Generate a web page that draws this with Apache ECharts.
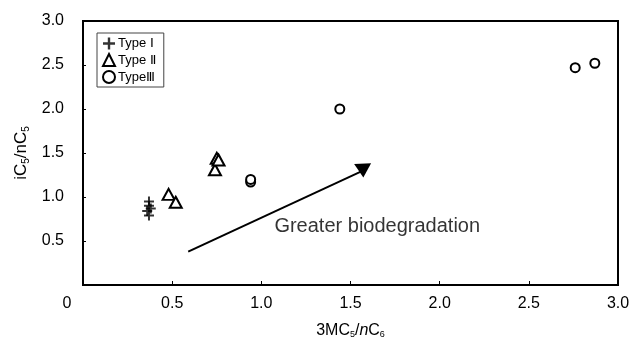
<!DOCTYPE html>
<html>
<head>
<meta charset="utf-8">
<script src="https://cdn.jsdelivr.net/npm/echarts@6/dist/echarts.min.js"></script>
<style>
  html, body { margin: 0; padding: 0; background: #fff; }
  #chart { width: 633px; height: 344px; }
</style>
</head>
<body>
<div id="chart"></div>
<script>
// values
const typeI = [[0.37, 0.95], [0.37, 0.90], [0.36, 0.84], [0.37, 0.79], [0.38, 0.87]];
const typeII = [[0.48, 1.03], [0.52, 0.94], [0.74, 1.31], [0.75, 1.44], [0.76, 1.42]];
const typeIII = [[0.94, 1.17], [0.94, 1.20], [1.44, 2.00], [2.76, 2.47], [2.87, 2.52]];
const arrow = [[0.59, 0.38], [1.57, 1.30]];
const note = [[1.65, 0.66]];
const noteText = 'Greater biodegradation';
const legendNames = ['Type Ⅰ', 'Type Ⅱ', 'TypeⅢ'];

const font = 'Liberation Sans, Arial, sans-serif';
const ink = '#000';
const plusPath = 'path://M4,0H6V4H10V6H6V10H4V6H0V4H4Z';

const chart = echarts.init(document.getElementById('chart'), null, { renderer: 'canvas' });
chart.setOption({
  backgroundColor: '#fff',
  animation: false,
  grid: { left: 83, right: 15, top: 21, bottom: 56, show: true, borderColor: ink, borderWidth: 2 },
  legend: {
    data: legendNames,
    orient: 'vertical',
    left: 97,
    top: 33,
    padding: [4, 8, 3, 5],
    itemGap: 3,
    itemWidth: 12,
    itemHeight: 12,
    borderColor: '#444',
    borderWidth: 1,
    textStyle: { fontFamily: font, fontSize: 13, color: ink, padding: [0, 0, 0, -2] }
  },
  xAxis: {
    type: 'value', min: 0, max: 3, interval: 0.5,
    name: '3MC{s|5}/{i|n}C{s|6}',
    nameLocation: 'middle', nameGap: 37,
    nameTextStyle: {
      fontFamily: font, fontSize: 16, color: ink,
      rich: {
        s: { fontFamily: font, fontSize: 9, color: ink, verticalAlign: 'bottom', padding: [8, 0, 0, 0] },
        i: { fontFamily: font, fontSize: 16, color: ink, fontStyle: 'italic' }
      }
    },
    axisLine: { show: true, lineStyle: { color: ink, width: 2 } },
    axisTick: { show: true, inside: true, length: 4, lineStyle: { color: ink } },
    splitLine: { show: false },
    axisLabel: {
      fontFamily: font, fontSize: 16, color: ink, margin: 11,
      formatter: (v) => v === 0 ? '{o|0}' : v.toFixed(1),
      rich: { o: { fontFamily: font, fontSize: 16, color: ink, padding: [0, 32, 0, 0] } }
    }
  },
  yAxis: {
    type: 'value', min: 0, max: 3, interval: 0.5,
    name: 'iC{s|5}/nC{s|5}',
    nameLocation: 'middle', nameGap: 47,
    nameTextStyle: {
      fontFamily: font, fontSize: 17, color: ink,
      rich: { s: { fontFamily: font, fontSize: 10, color: ink, verticalAlign: 'bottom', padding: [9, 0, 0, 0] } }
    },
    axisLine: { show: true, lineStyle: { color: ink, width: 2 } },
    axisTick: { show: true, inside: true, length: 3, lineStyle: { color: ink } },
    splitLine: { show: false },
    axisLabel: {
      fontFamily: font, fontSize: 16, color: ink, margin: 19,
      formatter: (v) => v === 0 ? '' : v.toFixed(1)
    }
  },
  series: [
    {
      name: legendNames[0], type: 'scatter', data: typeI,
      symbol: plusPath, symbolSize: 10,
      itemStyle: { color: ink }
    },
    {
      name: legendNames[1], type: 'scatter', data: typeII,
      symbol: 'triangle', symbolSize: [12, 11],
      itemStyle: { color: '#fff', borderColor: ink, borderWidth: 2, opacity: 1 }
    },
    {
      name: legendNames[2], type: 'scatter', data: typeIII,
      symbol: 'circle', symbolSize: 9,
      itemStyle: { color: '#fff', borderColor: ink, borderWidth: 2, opacity: 1 }
    },
    {
      name: 'arrow', type: 'line',
      data: [
        { value: arrow[0], symbol: 'none' },
        { value: arrow[1], symbol: 'triangle', symbolRotate: 183, symbolSize: [17, 14] }
      ],
      showSymbol: true,
      lineStyle: { color: ink, width: 2 },
      itemStyle: { color: ink },
      z: 3
    },
    {
      name: 'note', type: 'scatter', data: note,
      symbolSize: 0,
      label: {
        show: true, position: 'inside', formatter: noteText,
        fontFamily: font, fontSize: 20, color: ink
      }
    }
  ]
});
</script>
</body>
</html>
